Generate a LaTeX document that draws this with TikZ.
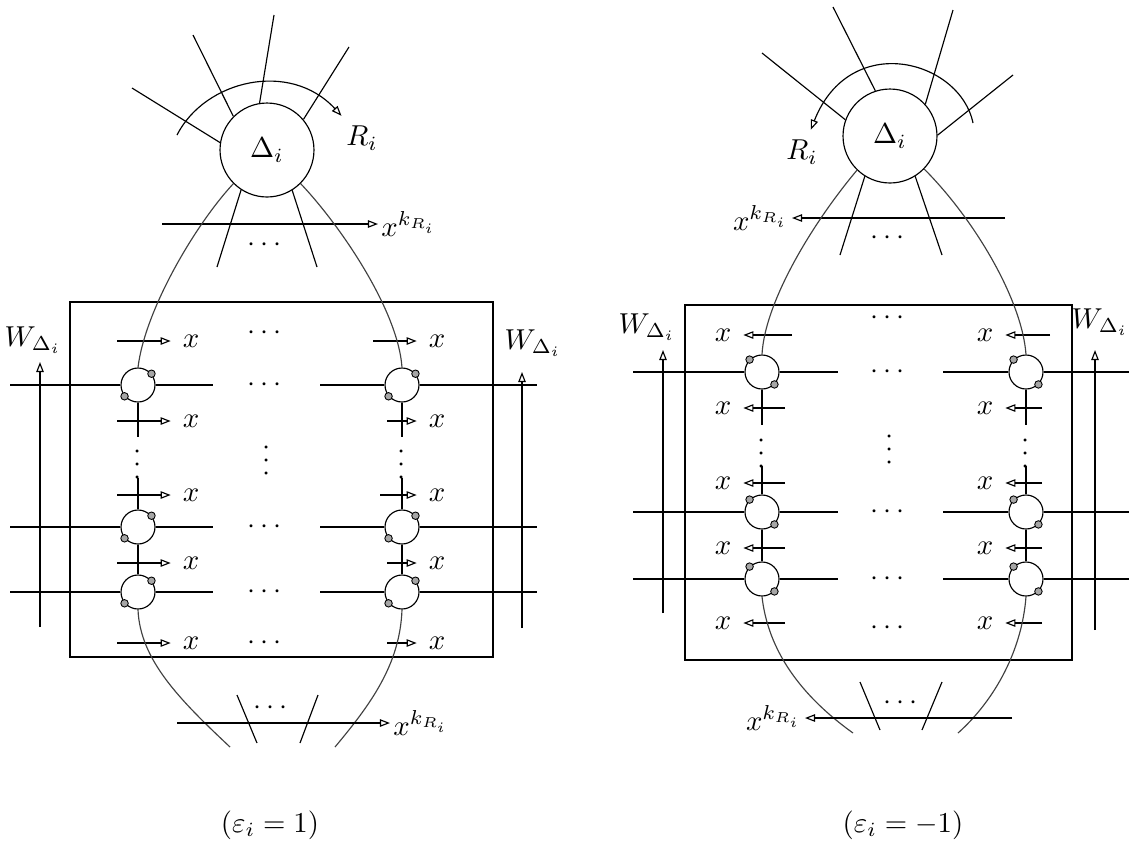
\documentclass[tikz,border=0pt]{standalone}
\usepackage{amsmath}
\usepackage{tikz}
\usetikzlibrary{arrows.meta}

\begin{document}
\begin{tikzpicture}[x=0.0122cm,y=-0.0122cm,
  bigvert/.style={draw,circle,minimum size=1.147cm,inner sep=0pt},
  vert/.style={draw,circle,minimum size=0.415cm,inner sep=0pt},
  arr/.style={-{Triangle[open,length=3.5pt,width=2.6pt]}},
  halfedge/.style={black!75},
  knob/.style={draw,fill=black!35,line width=0.3pt},
  xlab/.style={inner sep=4pt},
  vdot/.style={rotate=90,inner sep=0.5pt}
]
\useasboundingbox (0,0) rectangle (1129,843);

% epsilon_i = 1
\node[bigvert] (dl) at (267,150) {$\Delta_i$};
\node (rl) at (362,138) {$R_i$};
\draw (dl.171) -- (132,88) (dl.135) -- (193,35) (dl.99) -- (274,15) (dl.40) -- (349,47);
\draw (dl.-123) -- (217,267) (dl.-58) -- (317,267);
\draw[arr] (177,135) .. controls (205,80) and (290,60) .. (rl);
\node[anchor=west,inner sep=1pt] (kl) at (378,224) {$x^{k_{R_i}}$};
\draw[arr] (162,224) -- (kl.west);
\node at (267,245) {$\cdots$};

\draw (70,302) rectangle (493,657);
\foreach \n/\y in {1/385,2/527,3/592} {
  \node[vert] (a\n) at (138,\y) {};
  \node[vert] (b\n) at (402,\y) {};
  \draw (10,\y) -- (a\n.west) (a\n.east) -- (213,\y) (320,\y) -- (b\n.west) (b\n.east) -- (537,\y);
  \node at (267,\y) {$\cdots$};
  \draw[knob] (a\n.40) circle (1.3pt) (a\n.220) circle (1.3pt) (b\n.40) circle (1.3pt) (b\n.220) circle (1.3pt);
}
\foreach \n/\y/\s in {0/341/373,1/421/387,2/495/380,3/563/387,4/643/387} {
  \node[xlab] (xa\n) at (191,\y) {$x$};
  \node[xlab] (xb\n) at (437,\y) {$x$};
  \draw[arr] (117,\y) -- (xa\n);
  \draw[arr] (\s,\y) -- (xb\n);
}
\node at (267,333) {$\cdots$};
\node at (267,643) {$\cdots$};
\node[vdot] at (267,458) {$\cdots$};
\draw (a1.south) -- (138,437) (138,478) -- (a2.north) (a2.south) -- (a3.north);
\draw (b1.south) -- (402,437) (402,478) -- (b2.north) (b2.south) -- (b3.north);
\node[vdot] at (138,462) {$\cdots$};
\node[vdot] at (402,462) {$\cdots$};

\draw[halfedge] (dl.-135) .. controls (195,225) and (145,310) .. (a1.north);
\draw[halfedge] (dl.-45) .. controls (340,225) and (398,310) .. (b1.north);
\draw[halfedge] (a3.south) .. controls (140,660) and (180,700) .. (230,747);
\draw[halfedge] (b3.south) .. controls (400,665) and (370,705) .. (335,747);
\draw (237,695) -- (257,743) (318,695) -- (300,743);
\node at (273,708) {$\cdots$};
\node[anchor=west,inner sep=1pt] (klb) at (390,723) {$x^{k_{R_i}}$};
\draw[arr] (177,723) -- (klb.west);

\node (wla) at (33,340) {$W_{\Delta_i}$};
\draw[arr] (40,627) -- (40,362);
\node (wlb) at (533,343) {$W_{\Delta_i}$};
\draw[arr] (522,628) -- (522,372);

\node at (270,825) {$(\varepsilon_i=1)$};

% epsilon_i = -1
\node[bigvert] (dr) at (890,136) {$\Delta_i$};
\node (rr) at (802,152) {$R_i$};
\draw (dr.160) -- (762,53) (dr.108) -- (833,7) (dr.42) -- (953,10) (dr.1) -- (1013,75);
\draw (dr.-122) -- (840,255) (dr.-58) -- (942,255);
\draw[arr] (973,123) .. controls (960,60) and (850,30) .. (rr);
\node[anchor=east,inner sep=1pt] (kr) at (792,218) {$x^{k_{R_i}}$};
\draw[arr] (1005,218) -- (kr.east);
\node at (890,238) {$\cdots$};

\draw (685,305) rectangle (1072,660);
\foreach \n/\y in {1/372,2/512,3/579} {
  \node[vert] (c\n) at (762,\y) {};
  \node[vert] (d\n) at (1026,\y) {};
  \draw (633,\y) -- (c\n.west) (c\n.east) -- (838,\y) (943,\y) -- (d\n.west) (d\n.east) -- (1129,\y);
  \node at (890,\y) {$\cdots$};
  \draw[knob] (c\n.135) circle (1.3pt) (c\n.-45) circle (1.3pt) (d\n.135) circle (1.3pt) (d\n.-45) circle (1.3pt);
}
\foreach \n/\y/\s/\t in {0/335/792/1050,1/408/785/1042,2/483/785/1042,3/548/785/1042,4/623/785/1042} {
  \node[xlab] (xc\n) at (723,\y) {$x$};
  \node[xlab] (xd\n) at (985,\y) {$x$};
  \draw[arr] (\s,\y) -- (xc\n);
  \draw[arr] (\t,\y) -- (xd\n);
}
\node at (890,318) {$\cdots$};
\node at (890,628) {$\cdots$};
\node[vdot] at (890,447) {$\cdots$};
\draw (c1.south) -- (762,425) (762,466) -- (c2.north) (c2.south) -- (c3.north);
\draw (d1.south) -- (1026,425) (1026,466) -- (d2.north) (d2.south) -- (d3.north);
\node[vdot] at (762,451) {$\cdots$};
\node[vdot] at (1026,451) {$\cdots$};

\draw[halfedge] (dr.-134) .. controls (815,220) and (765,300) .. (c1.north);
\draw[halfedge] (dr.-44) .. controls (975,220) and (1022,300) .. (d1.north);
\draw[halfedge] (c3.south) .. controls (768,650) and (800,695) .. (853,733);
\draw[halfedge] (d3.south) .. controls (1022,650) and (995,700) .. (958,733);
\draw (860,682) -- (880,730) (942,682) -- (922,730);
\node at (903,703) {$\cdots$};
\node[anchor=east,inner sep=1pt] (krb) at (805,718) {$x^{k_{R_i}}$};
\draw[arr] (1012,718) -- (krb.east);

\node (wra) at (647,327) {$W_{\Delta_i}$};
\draw[arr] (663,613) -- (663,350);
\node (wrb) at (1100,322) {$W_{\Delta_i}$};
\draw[arr] (1095,630) -- (1095,350);

\node at (903,825) {$(\varepsilon_i=-1)$};
\end{tikzpicture}
\end{document}
